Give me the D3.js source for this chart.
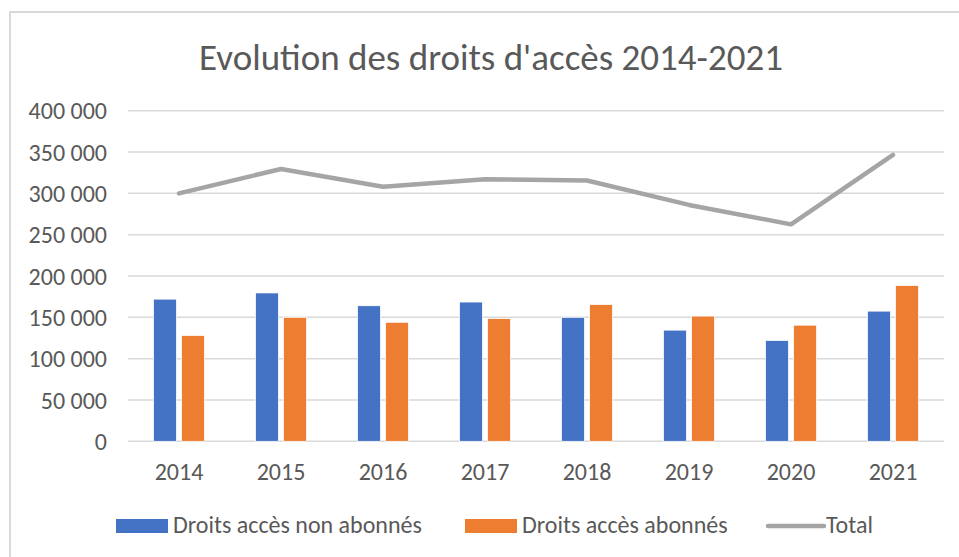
<!DOCTYPE html>
<html>
<head>
<meta charset="utf-8">
<script src="https://cdn.jsdelivr.net/npm/d3@7"></script>
<style>
  body { margin: 0; background: #fff; }
  svg text { font-family: Carlito, "Liberation Sans Narrow", "Open Sans", sans-serif; fill: #595959; }
</style>
</head>
<body>
<div id="chart"></div>
<script>
// Data
const years = ["2014", "2015", "2016", "2017", "2018", "2019", "2020", "2021"];
const nonAbonnes = [172000, 179500, 164000, 168500, 150000, 134500, 122000, 157500];
const abonnes = [128000, 150000, 144000, 148500, 165500, 151500, 140500, 188500];
const total = [300000, 329500, 308000, 317000, 315500, 286000, 262500, 346500];
const yTicks = [0, 50000, 100000, 150000, 200000, 250000, 300000, 350000, 400000];
const seriesNames = ["Droits accès non abonnés", "Droits accès abonnés", "Total"];
const colors = ["#4472C4", "#ED7D31", "#A5A5A5"];

const W = 959, H = 557;
const svg = d3.select("#chart").append("svg")
    .attr("width", W)
    .attr("height", H);

// Chart frame (top and left edges visible)
svg.append("path")
    .attr("d", `M10,${H} L10,12 L${W},12`)
    .attr("fill", "none")
    .attr("stroke", "#d9d9d9")
    .attr("stroke-width", 2);

// Title
svg.append("text")
    .attr("x", 491)
    .attr("y", 70)
    .attr("text-anchor", "middle")
    .style("font-size", "37px")
    .text("Evolution des droits d'accès 2014-2021");

// Scales
const x0 = d3.scaleBand().domain(years).range([128, 944]);
const x1 = d3.scaleBand().domain([0, 1])
    .range([x0.bandwidth() * 0.25, x0.bandwidth() * 0.75])
    .paddingInner(0.18);
const y = d3.scaleLinear().domain([0, 400000]).range([441.3, 110.7]);

const fmt = v => d3.format(",")(v).replace(/,/g, " ");

// Gridlines
svg.append("g")
    .selectAll("line")
    .data(yTicks)
    .join("line")
    .attr("x1", 128).attr("x2", 944)
    .attr("y1", d => y(d)).attr("y2", d => y(d))
    .attr("stroke", "#d9d9d9")
    .attr("stroke-width", 1.5);

// Y axis
const yAxis = svg.append("g")
    .attr("transform", "translate(107,0)")
    .call(d3.axisLeft(y).tickValues(yTicks).tickFormat(fmt).tickSize(0).tickPadding(0));
yAxis.select(".domain").remove();
yAxis.selectAll("text").style("font-size", "24px").attr("dy", "0.34em");

// X axis
const xAxis = svg.append("g")
    .attr("transform", "translate(0,480)")
    .call(d3.axisBottom(x0).tickSize(0).tickPadding(0));
xAxis.select(".domain").remove();
xAxis.selectAll("text").style("font-size", "24px").attr("y", 0).attr("dy", 0);

// Bars
const barData = years.map((yr, i) => ({ yr, vals: [nonAbonnes[i], abonnes[i]] }));
const groups = svg.append("g")
    .selectAll("g")
    .data(barData)
    .join("g")
    .attr("transform", d => `translate(${x0(d.yr)},0)`);

groups.selectAll("rect")
    .data(d => d.vals.map((v, k) => ({ v, k })))
    .join("rect")
    .attr("x", d => x1(d.k))
    .attr("width", x1.bandwidth())
    .attr("y", d => y(d.v))
    .attr("height", d => y(0) - y(d.v))
    .attr("fill", d => colors[d.k])
    .attr("stroke", "#fff")
    .attr("stroke-width", 0.75);

// Total line
const line = d3.line()
    .x((d, i) => x0(years[i]) + x0.bandwidth() / 2)
    .y(d => y(d));

svg.append("path")
    .datum(total)
    .attr("fill", "none")
    .attr("stroke", colors[2])
    .attr("stroke-width", 4.5)
    .attr("stroke-linecap", "round")
    .attr("stroke-linejoin", "round")
    .attr("d", line);

// Legend
const legendX = [116, 465, 768];
const legend = svg.append("g");
seriesNames.forEach((name, i) => {
    const g = legend.append("g").attr("transform", `translate(${legendX[i]},0)`);
    if (i < 2) {
        g.append("rect")
            .attr("x", 0).attr("y", 519)
            .attr("width", 52).attr("height", 14)
            .attr("fill", colors[i]);
    } else {
        g.append("line")
            .attr("x1", 0).attr("x2", 56)
            .attr("y1", 526).attr("y2", 526)
            .attr("stroke", colors[i])
            .attr("stroke-width", 4.5)
            .attr("stroke-linecap", "round");
    }
    g.append("text")
        .attr("x", i < 2 ? 57 : 58)
        .attr("y", 533)
        .style("font-size", "24px")
        .text(name);
});
</script>
</body>
</html>
